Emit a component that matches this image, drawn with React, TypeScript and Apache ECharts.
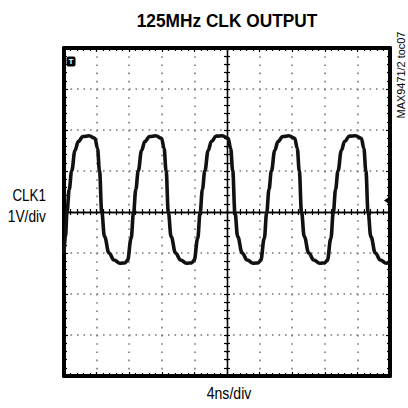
import React, { useEffect, useRef } from "react";
import * as echarts from "echarts";

// Time axis (ns), 4 ns/div, 10 divisions
const X_MIN = 0;
const X_MAX = 40;
const X_INTERVAL = 4;
// Voltage axis (V), 1 V/div, 8 divisions
const Y_MIN = -4;
const Y_MAX = 4;
const Y_INTERVAL = 1;

// CLK1 trace: time (ns) and level (V)
const TIME_NS = [
  0, 0.18,
  0.37, 0.64, 0.94, 1.35, 1.75, 2.33, 3.07, 3.8, 4.11, 4.36, 4.63, 4.97, 5.52, 6.13, 6.87, 7.48, 7.8, 8.23,
  8.54, 8.81, 9.11, 9.52, 9.92, 10.5, 11.24, 11.97, 12.28, 12.53, 12.8, 13.14, 13.69, 14.3, 15.04, 15.65, 15.97, 16.4,
  16.71, 16.98, 17.28, 17.69, 18.09, 18.67, 19.41, 20.14, 20.45, 20.7, 20.97, 21.31, 21.86, 22.47, 23.21, 23.82, 24.14, 24.57,
  24.88, 25.15, 25.45, 25.86, 26.26, 26.84, 27.58, 28.31, 28.62, 28.87, 29.14, 29.48, 30.03, 30.64, 31.38, 31.99, 32.31, 32.74,
  33.05, 33.32, 33.62, 34.03, 34.43, 35.01, 35.75, 36.48, 36.79, 37.04, 37.31, 37.65, 38.2, 38.81, 39.55, 40,
];
const CLK1_V = [
  -1.0, -0.6,
  0, 0.55, 1.0, 1.5, 1.72, 1.84, 1.86, 1.8, 1.55, 1.0, 0, -0.6, -1.0, -1.17, -1.25, -1.24, -1.18, -0.65,
  0, 0.55, 1.0, 1.5, 1.72, 1.84, 1.86, 1.8, 1.55, 1.0, 0, -0.6, -1.0, -1.17, -1.25, -1.24, -1.18, -0.65,
  0, 0.55, 1.0, 1.5, 1.72, 1.85, 1.86, 1.8, 1.55, 1.0, 0, -0.6, -1.0, -1.17, -1.25, -1.24, -1.18, -0.65,
  0, 0.55, 1.0, 1.5, 1.72, 1.84, 1.86, 1.8, 1.55, 1.0, 0, -0.6, -1.0, -1.17, -1.25, -1.24, -1.18, -0.65,
  0, 0.55, 1.0, 1.5, 1.72, 1.85, 1.86, 1.8, 1.55, 1.0, 0, -0.6, -1.0, -1.17, -1.25, -1.22,
];

const TITLE = "125MHz CLK OUTPUT";
const Y_NAME_1 = "CLK1";
const Y_NAME_2 = "1V/div";
const X_NAME = "4ns/div";
const SIDE_NOTE = "MAX9471/2 toc07";

const FONT = "'Liberation Sans', Arial, sans-serif";

const G_LEFT = 64;
const G_TOP = 48;
const G_W = 326;
const G_H = 328;

export default function App() {
  const ref = useRef<HTMLDivElement>(null);
  useEffect(() => {
    if (!ref.current) return;
    const chart = echarts.init(ref.current, undefined, { renderer: "svg" });

    const frameX = (position: string) => ({
      type: "value",
      position,
      min: X_MIN,
      max: X_MAX,
      interval: X_INTERVAL,
      axisLine: { show: true, onZero: false, lineStyle: { color: "#000", width: 4 } },
      axisTick: { show: true, inside: true, length: 4, lineStyle: { color: "#000", width: 1.2 } },
      minorTick: { show: true, splitNumber: 5, length: 3, lineStyle: { color: "#000", width: 1.2 } },
      axisLabel: { show: false },
      splitLine: {
        show: position === "bottom",
        lineStyle: { color: "#777", width: 1.6, type: [1.6, 6.6] },
      },
    });
    const frameY = (position: string) => ({
      type: "value",
      position,
      min: Y_MIN,
      max: Y_MAX,
      interval: Y_INTERVAL,
      axisLine: { show: true, onZero: false, lineStyle: { color: "#000", width: 4 } },
      axisTick: { show: true, inside: true, length: 4, lineStyle: { color: "#000", width: 1.2 } },
      minorTick: { show: true, splitNumber: 5, length: 3, lineStyle: { color: "#000", width: 1.2 } },
      axisLabel: { show: false },
      splitLine: {
        show: position === "left",
        lineStyle: { color: "#777", width: 1.6, type: [1.6, 4.9] },
      },
    });
    const centerX = (position: string) => ({
      type: "value",
      position,
      offset: -G_H / 2,
      min: X_MIN,
      max: X_MAX,
      interval: X_INTERVAL,
      axisLine: { show: true, onZero: false, lineStyle: { color: "#000", width: 1.3 } },
      axisTick: { show: true, inside: false, length: 3, lineStyle: { color: "#000", width: 1.2 } },
      minorTick: { show: true, splitNumber: 5, length: 3, lineStyle: { color: "#000", width: 1.2 } },
      axisLabel: { show: false },
      splitLine: { show: false },
    });
    const centerY = (position: string) => ({
      type: "value",
      position,
      offset: -G_W / 2,
      min: Y_MIN,
      max: Y_MAX,
      interval: Y_INTERVAL,
      axisLine: { show: true, onZero: false, lineStyle: { color: "#000", width: 1.3 } },
      axisTick: { show: true, inside: false, length: 3, lineStyle: { color: "#000", width: 1.2 } },
      minorTick: { show: true, splitNumber: 5, length: 3, lineStyle: { color: "#000", width: 1.2 } },
      axisLabel: { show: false },
      splitLine: { show: false },
    });

    const data = TIME_NS.map((t, i) => [t, CLK1_V[i]]);

    chart.setOption({
      animation: false,
      backgroundColor: "#fff",
      grid: { left: G_LEFT, top: G_TOP, width: G_W, height: G_H, containLabel: false },
      xAxis: [frameX("bottom"), frameX("top"), centerX("bottom"), centerX("top")],
      yAxis: [frameY("left"), frameY("right"), centerY("left"), centerY("right")],
      series: [
        {
          type: "line",
          xAxisIndex: 0,
          yAxisIndex: 0,
          data,
          showSymbol: false,
          smooth: 0.4,
          smoothMonotone: "x",
          lineStyle: { color: "#111", width: 3.6 },
          z: 5,
        },
      ],
      graphic: [
        {
          type: "text",
          x: 227,
          y: 21,
          scaleX: 0.91,
          style: { text: TITLE, font: `bold 19px ${FONT}`, fill: "#000", align: "center", verticalAlign: "middle" },
        },
        {
          type: "text",
          x: 46,
          y: 196,
          scaleX: 0.84,
          style: { text: Y_NAME_1, font: `16px ${FONT}`, fill: "#000", align: "right", verticalAlign: "middle" },
        },
        {
          type: "text",
          x: 46,
          y: 216,
          scaleX: 0.86,
          style: { text: Y_NAME_2, font: `16px ${FONT}`, fill: "#000", align: "right", verticalAlign: "middle" },
        },
        {
          type: "text",
          x: 229,
          y: 393,
          scaleX: 0.88,
          style: { text: X_NAME, font: `16px ${FONT}`, fill: "#000", align: "center", verticalAlign: "middle" },
        },
        {
          type: "text",
          x: 401,
          y: 75,
          rotation: Math.PI / 2,
          scaleX: 0.95,
          style: { text: SIDE_NOTE, font: `11.5px ${FONT}`, fill: "#000", align: "center", verticalAlign: "middle" },
        },
        {
          type: "rect",
          shape: { x: 66.5, y: 56.5, width: 9, height: 10, r: 2 },
          style: { fill: "#000" },
          z: 10,
        },
        {
          type: "text",
          x: 71,
          y: 61.8,
          style: { text: "T", font: `bold 8px ${FONT}`, fill: "#fff", align: "center", verticalAlign: "middle" },
          z: 11,
        },
        {
          type: "polygon",
          shape: { points: [[384, 200.5], [389, 197], [389, 204]] },
          style: { fill: "#000" },
          z: 10,
        },
      ],
    });
    return () => chart.dispose();
  }, []);
  return <div ref={ref} style={{ position: "fixed", left: 0, top: 0, width: 408, height: 408 }} />;
}
